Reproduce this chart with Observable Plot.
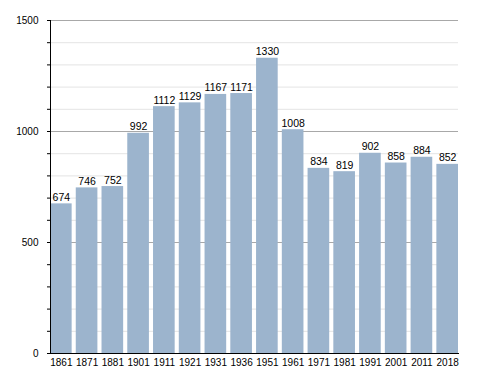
<!DOCTYPE html>
<html><head><meta charset="utf-8">
<script src="https://cdn.jsdelivr.net/npm/d3@7"></script>
<script src="https://cdn.jsdelivr.net/npm/@observablehq/plot@0.6"></script>
<style>body{margin:0;background:#fff;} svg{display:block;}</style>
</head><body><div id="chart"></div>
<script>
const years = ["1861","1871","1881","1901","1911","1921","1931","1936","1951","1961","1971","1981","1991","2001","2011","2018"];
const population = [674,746,752,992,1112,1129,1167,1171,1330,1008,834,819,902,858,884,852];
const majorTicks = [0,500,1000,1500];
const minorTicks = d3.range(0,1501,100);

const data = years.map((y,i)=>({year:y, value:population[i]}));

const chart = Plot.plot({
  width:488, height:373,
  marginLeft:50, marginRight:30, marginTop:20, marginBottom:20,
  style:{fontFamily:"Liberation Sans, Arial, sans-serif", fontSize:"10px", color:"#000", background:"#fff"},
  x:{domain:years, paddingInner:0.16, paddingOuter:0, round:false, label:null},
  y:{domain:[0,1500], label:null},
  marks:[
    Plot.ruleY(minorTicks.filter(d=>d%500!==0), {stroke:"#e4e4e4"}),
    Plot.ruleY(majorTicks.filter(d=>d>0), {stroke:"#a8a8a8"}),
    Plot.barY(data, {x:"year", y:"value", fill:"#9cb4cd"}),
    Plot.text(data, {x:"year", y:"value", text:d=>String(d.value), lineAnchor:"bottom", dy:-3, fontSize:10.5, fill:"#000"}),
    Plot.axisY(minorTicks, {tickSize:3, tickFormat:d=>d%500===0?String(d):"", tickPadding:9, stroke:"#000"}),
    Plot.axisX({tickSize:0, tickPadding:5, fontSize:10}),
    Plot.frame({anchor:"left", stroke:"#000"}),
    Plot.frame({anchor:"bottom", stroke:"#000"})
  ]
});
document.getElementById("chart").appendChild(chart);
</script></body></html>
